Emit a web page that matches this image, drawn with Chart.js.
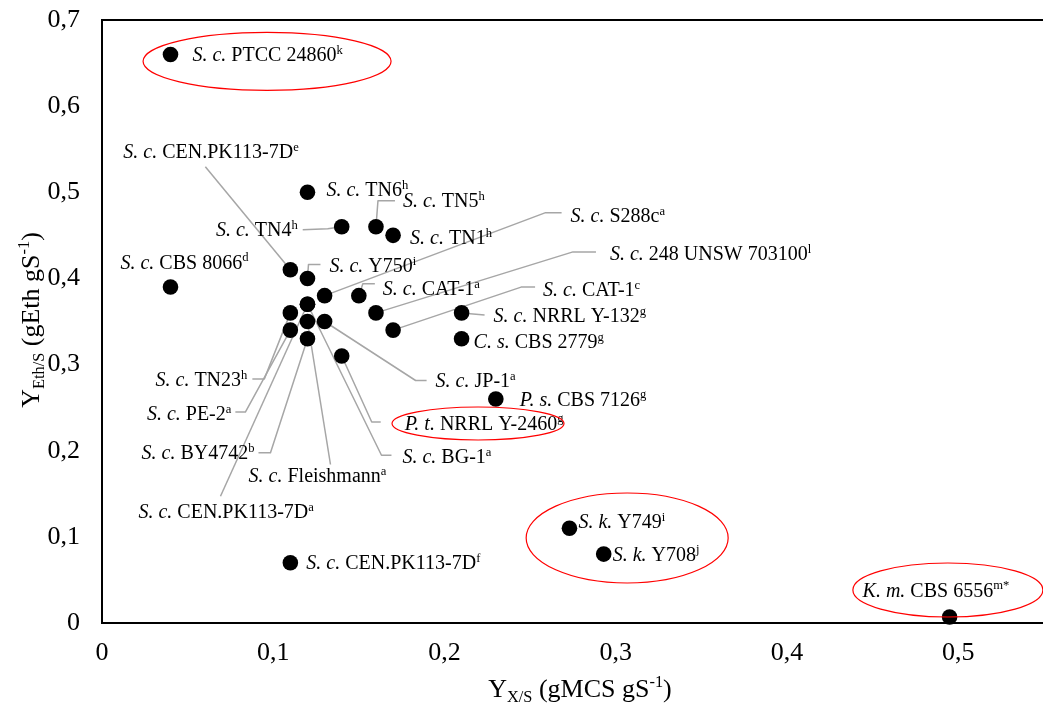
<!DOCTYPE html>
<html>
<head>
<meta charset="utf-8">
<script src="https://cdn.jsdelivr.net/npm/chart.js@4.4.1/dist/chart.umd.min.js"></script>
<style>
  html, body { margin: 0; padding: 0; background: #fff; }
  #wrap { width: 1043px; height: 709px; position: relative; }
</style>
</head>
<body>
<div id="wrap"><canvas id="yieldChart"></canvas></div>
<script>
// Strain identity: genus/species abbreviation, strain name, reference letter
const strainAbbr = ['S. c.', 'S. c.', 'S. c.', 'S. c.', 'S. c.', 'S. c.', 'S. c.', 'S. c.', 'S. c.',
  'S. c.', 'S. c.', 'S. c.', 'S. c.', 'C. s.', 'S. c.', 'S. c.', 'S. c.', 'P. s.', 'P. t.',
  'S. c.', 'S. c.', 'S. c.', 'S. c.', 'S. k.', 'S. k.', 'S. c.', 'K. m.'];
const strainName = ['PTCC 24860', 'CEN.PK113-7D', 'TN6', 'TN4', 'TN5', 'TN1', 'Y750', 'CBS 8066', 'S288c',
  'CAT-1', '248 UNSW 703100', 'NRRL Y-132', 'CAT-1', 'CBS 2779', 'TN23', 'JP-1', 'PE-2', 'CBS 7126', 'NRRL Y-2460',
  'BY4742', 'BG-1', 'Fleishmann', 'CEN.PK113-7D', 'Y749', 'Y708', 'CEN.PK113-7D', 'CBS 6556'];
const strainRef = ['k', 'e', 'h', 'h', 'h', 'h', 'i', 'd', 'a',
  'a', 'l', 'g', 'c', 'g', 'h', 'a', 'a', 'g', 'g',
  'b', 'a', 'a', 'a', 'i', 'j', 'f', 'm*'];

// Biomass yield Y X/S (gMCS gS-1) and ethanol yield Y Eth/S (gEth gS-1)
const yieldBiomass = [0.04, 0.11, 0.12, 0.14, 0.16, 0.17, 0.12, 0.04, 0.13,
  0.15, 0.16, 0.21, 0.17, 0.21, 0.11, 0.13, 0.11, 0.23, 0.14,
  0.12, 0.12, 0.12, 0.12, 0.273, 0.293, 0.11, 0.495];
const yieldEthanol = [0.66, 0.41, 0.50, 0.46, 0.46, 0.45, 0.40, 0.39, 0.38,
  0.38, 0.36, 0.36, 0.34, 0.33, 0.36, 0.35, 0.34, 0.26, 0.31,
  0.33, 0.37, 0.35, 0.37, 0.11, 0.08, 0.07, 0.007];

// Axis ticks
const xTickValues = [0, 0.1, 0.2, 0.3, 0.4, 0.5];
const yTickValues = [0, 0.1, 0.2, 0.3, 0.4, 0.5, 0.6, 0.7];

// Label placement, in pixels relative to each point: anchor, text offset, leader path
const labelLayout = [
  { align: 'left',   dx: 22,   dy: 0,   path: [] },
  { align: 'left',   dx: -167, dy: -118, path: [[-85, -103]] },
  { align: 'left',   dx: 19,   dy: -3,  path: [] },
  { align: 'right',  dx: -44,  dy: 3,   path: [[-14, 2], [-39, 3]] },
  { align: 'left',   dx: 27,   dy: -26, path: [[2, -26], [19, -26]] },
  { align: 'left',   dx: 17,   dy: 2,   path: [] },
  { align: 'left',   dx: 22,   dy: -13, path: [[1, -14], [13, -14]] },
  { align: 'left',   dx: -50,  dy: -25, path: [] },
  { align: 'left',   dx: 246,  dy: -80, path: [[221, -83], [237, -83]] },
  { align: 'left',   dx: 24,   dy: -7,  path: [[4, -12], [16, -12]] },
  { align: 'left',   dx: 234,  dy: -59, path: [[197, -61], [220, -61]] },
  { align: 'left',   dx: 32,   dy: 3,   path: [[23, 2]] },
  { align: 'left',   dx: 150,  dy: -41, path: [[128, -43], [142, -43]] },
  { align: 'left',   dx: 12,   dy: 3,   path: [] },
  { align: 'right',  dx: -43,  dy: 67,  path: [[-26, 66], [-38, 66]] },
  { align: 'left',   dx: 111,  dy: 59,  path: [[91, 59], [102, 59]] },
  { align: 'right',  dx: -59,  dy: 83,  path: [[-45, 82], [-55, 82]] },
  { align: 'left',   dx: 24,   dy: 0,   path: [] },
  { align: 'left',   dx: 63,   dy: 67,  path: [[30, 66], [39, 66]] },
  { align: 'right',  dx: -53,  dy: 114, path: [[-37, 114], [-49, 114]] },
  { align: 'left',   dx: 95,   dy: 152, path: [[74, 151], [84, 151]] },
  { align: 'center', dx: 10,   dy: 154, path: [[23, 143]] },
  { align: 'left',   dx: -169, dy: 207, path: [[-87, 192]] },
  { align: 'left',   dx: 9,    dy: -7,  path: [] },
  { align: 'left',   dx: 9,    dy: 0,   path: [] },
  { align: 'left',   dx: 16,   dy: 0,   path: [] },
  { align: 'left',   dx: -87,  dy: -27, path: [] }
];

// Red rings around highlighted strains: centre in axis units, radii in pixels
const highlightRings = [
  { x: 0.0964, y: 0.652, rx: 124, ry: 29 },
  { x: 0.2196, y: 0.2316, rx: 86, ry: 16.5 },
  { x: 0.3067, y: 0.0987, rx: 101, ry: 45 },
  { x: 0.494, y: 0.0383, rx: 95, ry: 27 }
];

const SERIF = '"Liberation Serif", "Times New Roman", serif';
const LABEL_SIZE = 20;
const TITLE_SIZE = 26;

function fmtTick(v) {
  return v === 0 ? '0' : v.toFixed(1).replace('.', ',');
}

// Draws a run of text segments (italic / superscript / subscript) on one baseline
function drawRich(ctx, segs, x, y, align, size) {
  const parts = segs.map(s => {
    const fs = (s.sup || s.sub) ? size * 0.63 : size;
    const font = (s.italic ? 'italic ' : '') + fs + 'px ' + SERIF;
    ctx.font = font;
    return { s, font, w: ctx.measureText(s.t).width };
  });
  const total = parts.reduce((a, p) => a + p.w, 0);
  let cx = align === 'right' ? x - total : align === 'center' ? x - total / 2 : x;
  ctx.textAlign = 'left';
  ctx.textBaseline = 'alphabetic';
  const base = y + size * 0.33;
  parts.forEach(p => {
    ctx.font = p.font;
    let yy = base;
    if (p.s.sup) yy = base - size * 0.36;
    if (p.s.sub) yy = base + size * 0.2;
    ctx.fillText(p.s.t, cx, yy);
    cx += p.w;
  });
}

const annotatePlugin = {
  id: 'strainAnnotations',
  beforeDatasetsDraw(chart) {
    const ctx = chart.ctx;
    const meta = chart.getDatasetMeta(0);
    ctx.save();
    ctx.strokeStyle = '#a6a6a6';
    ctx.lineWidth = 1.5;
    ctx.lineJoin = 'round';
    meta.data.forEach((pt, i) => {
      const lay = labelLayout[i];
      if (!lay.path.length) return;
      ctx.beginPath();
      ctx.moveTo(pt.x, pt.y);
      lay.path.forEach(p => ctx.lineTo(pt.x + p[0], pt.y + p[1]));
      ctx.stroke();
    });
    ctx.restore();
  },
  afterDatasetsDraw(chart) {
    const ctx = chart.ctx;
    const meta = chart.getDatasetMeta(0);
    const xs = chart.scales.x, ys = chart.scales.y;
    const area = chart.chartArea;
    ctx.save();
    // upper frame line, and the x axis line carried on to the right edge
    ctx.strokeStyle = '#000';
    ctx.lineWidth = 2;
    ctx.beginPath();
    ctx.moveTo(area.left - 1, area.top);
    ctx.lineTo(chart.width, area.top);
    ctx.moveTo(area.right - 1, area.bottom);
    ctx.lineTo(chart.width, area.bottom);
    ctx.stroke();

    ctx.fillStyle = '#000';
    meta.data.forEach((pt, i) => {
      const lay = labelLayout[i];
      drawRich(ctx, [
        { t: strainAbbr[i], italic: true },
        { t: ' ' + strainName[i] },
        { t: strainRef[i], sup: true }
      ], pt.x + lay.dx, pt.y + lay.dy, lay.align, LABEL_SIZE);
    });

    ctx.strokeStyle = '#ff0000';
    ctx.lineWidth = 1.2;
    highlightRings.forEach(r => {
      ctx.beginPath();
      ctx.ellipse(xs.getPixelForValue(r.x), ys.getPixelForValue(r.y), r.rx, r.ry, 0, 0, Math.PI * 2);
      ctx.stroke();
    });

    // axis titles
    ctx.fillStyle = '#000';
    drawRich(ctx, [
      { t: 'Y' }, { t: 'X/S', sub: true }, { t: ' (gMCS gS' }, { t: '-1', sup: true }, { t: ')' }
    ], 580, 688, 'center', TITLE_SIZE);

    ctx.translate(30, 320);
    ctx.rotate(-Math.PI / 2);
    drawRich(ctx, [
      { t: 'Y' }, { t: 'Eth/S', sub: true }, { t: ' (gEth gS' }, { t: '-1', sup: true }, { t: ')' }
    ], 0, 0, 'center', TITLE_SIZE);
    ctx.restore();
  }
};

const points = yieldBiomass.map((x, i) => ({ x, y: yieldEthanol[i] }));

new Chart(document.getElementById('yieldChart'), {
  type: 'scatter',
  data: {
    datasets: [{
      data: points,
      backgroundColor: '#000',
      borderWidth: 0,
      pointRadius: 7.8,
      pointHoverRadius: 7.8,
      clip: false
    }]
  },
  options: {
    responsive: true,
    maintainAspectRatio: false,
    animation: false,
    events: [],
    layout: { padding: { top: 20, right: 0, left: 0, bottom: 0 } },
    plugins: { legend: { display: false }, tooltip: { enabled: false } },
    scales: {
      x: {
        type: 'linear',
        min: 0,
        max: 0.545,
        grid: { display: false, drawTicks: false },
        border: { display: true, color: '#000', width: 2 },
        ticks: { color: '#000', font: { family: SERIF, size: 26 }, padding: 15, callback: v => fmtTick(v), maxRotation: 0 },
        afterBuildTicks: s => { s.ticks = xTickValues.map(v => ({ value: v })); },
        afterFit: s => { s.height = 86; s.paddingLeft = 0; s.paddingRight = 0; }
      },
      y: {
        type: 'linear',
        min: 0,
        max: 0.7,
        grid: { display: false, drawTicks: false },
        border: { display: true, color: '#000', width: 2 },
        ticks: { color: '#000', font: { family: SERIF, size: 26 }, padding: 22, callback: v => fmtTick(v) },
        afterBuildTicks: s => { s.ticks = yTickValues.map(v => ({ value: v })); },
        afterFit: s => { s.width = 102; s.paddingTop = 0; s.paddingBottom = 0; }
      }
    }
  },
  plugins: [annotatePlugin]
});
</script>
</body>
</html>
